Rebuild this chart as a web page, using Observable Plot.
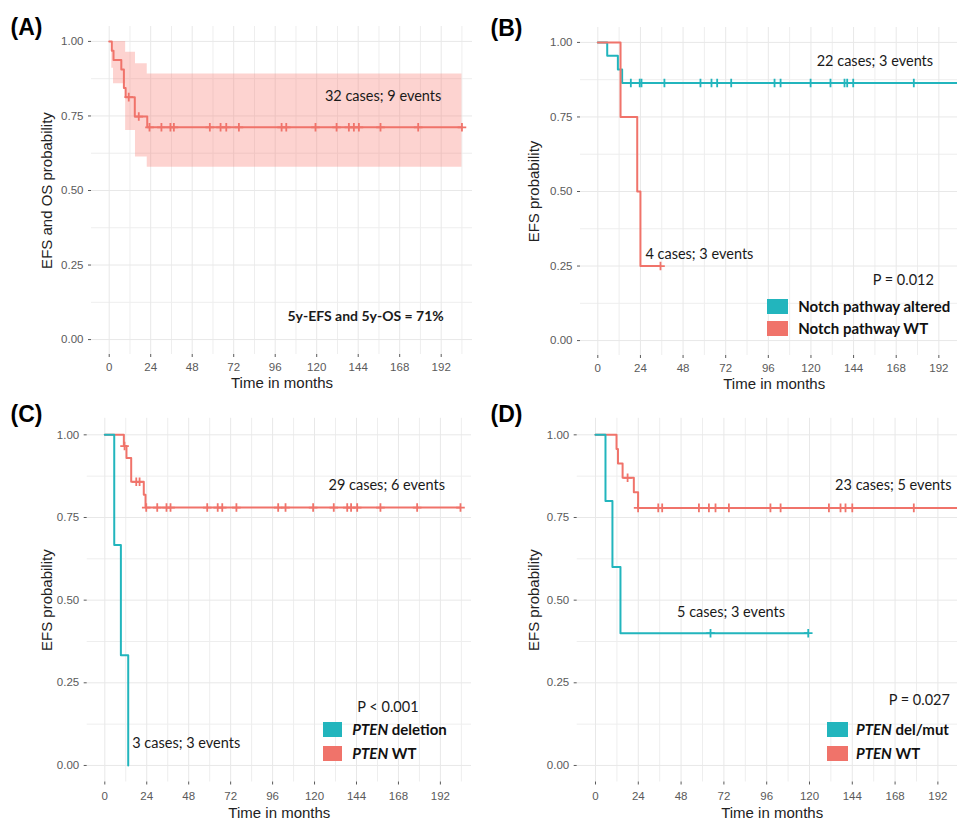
<!DOCTYPE html>
<html><head><meta charset="utf-8">
<script src="https://cdn.jsdelivr.net/npm/d3@7"></script>
<script src="https://cdn.jsdelivr.net/npm/@observablehq/plot@0.6"></script>
<style>
body{margin:0;background:#fff;}
#root{position:relative;width:957px;height:822px;overflow:hidden;background:#fff;font-family:"Liberation Sans",Arial,sans-serif;}
.pan{position:absolute;}
.leg{position:absolute;font-family:Lato,"Open Sans",sans-serif;font-weight:bold;font-size:15px;color:#111;white-space:nowrap;line-height:1;}
.key{position:absolute;}
</style></head><body><div id="root"></div>
<script>
// ---------- shared tick values ----------
const monthTicks = [0, 24, 48, 72, 96, 120, 144, 168, 192];
const monthMinor = [12, 36, 60, 84, 108, 132, 156, 180, 204];
const probTicks = [0, 0.25, 0.5, 0.75, 1];
const probMinor = [0.125, 0.375, 0.625, 0.875];

const TEAL = "#22b5bd";
const RED = "#f0736a";

// ---------- Panel A : all patients ----------
const aTime = [0, 1.5, 2.5, 7.0, 8.5, 9.5, 14.8, 22.0, 204];
const aSurv = [1, 0.969, 0.938, 0.906, 0.844, 0.813, 0.748, 0.712, 0.712];
const aCiTime = [0, 1.5, 2.5, 9.5, 15.2, 22.0, 204];
const aCiHi = [1, 1, 1, 0.964, 0.925, 0.891, 0.891];
const aCiLo = [1, 0.91, 0.858, 0.701, 0.612, 0.578, 0.578];
const aCens = [11.3, 17.1, 23.3, 30.2, 35.4, 37.4, 58.2, 64.4, 67.7, 75.0, 99.7, 102.4, 119.3, 131.5, 138.6, 141.5, 144.4, 156.9, 178.7, 204];
const aNotes = ["32 cases; 9 events"], aNoteX = [158.4], aNoteY = [0.815];
const aBold = ["5y-EFS and 5y-OS = 71%"], aBoldX = [148.3], aBoldY = [0.077];

// ---------- Panel B : Notch pathway ----------
const bAltTime = [0, 5.3, 11.3, 13.7, 204];
const bAltSurv = [1, 0.955, 0.909, 0.864, 0.864];
const bAltCens = [18.6, 23.6, 24.6, 37.5, 57.8, 64.0, 67.2, 75.1, 99.5, 102.9, 119.8, 131.0, 138.9, 140.4, 143.8, 177.9];
const bWtTime = [0, 12.8, 22.2, 24.0, 35.3];
const bWtSurv = [1, 0.75, 0.5, 0.25, 0.25];
const bWtCens = [35.3];
const bNotes = ["22 cases; 3 events", "4 cases; 3 events", "P = 0.012"];
const bNoteX = [156, 57.2, 172];
const bNoteY = [0.935, 0.289, 0.203];
const bLegend = ["Notch pathway altered", "Notch pathway WT"];

// ---------- Panel C : PTEN deletion ----------
const cDelTime = [0, 5.4, 9.2, 13.4];
const cDelSurv = [1, 0.667, 0.333, 0];
const cWtTime = [0, 10.9, 12.4, 15.1, 22.3, 23.3, 203.5];
const cWtSurv = [1, 0.966, 0.930, 0.858, 0.819, 0.780, 0.780];
const cWtCens = [11.3, 18.0, 19.9, 23.7, 30.0, 35.3, 37.6, 58.6, 64.6, 67.2, 75.3, 99.2, 103.4, 119.2, 131.0, 138.7, 140.9, 144.4, 157.7, 178.7, 203.5];
const cNotes = ["29 cases; 6 events", "3 cases; 3 events", "P < 0.001"];
const cNoteX = [161.3, 46.6, 162];
const cNoteY = [0.846, 0.066, 0.176];
const cLegend = [" deletion", " WT"];

// ---------- Panel D : PTEN del/mut ----------
const dMutTime = [0, 5.6, 9.5, 14.0, 119.3];
const dMutSurv = [1, 0.8, 0.6, 0.4, 0.4];
const dMutCens = [64.5, 119.3];
const dWtTime = [0, 11.8, 12.6, 15.2, 21.5, 23.9, 204];
const dWtSurv = [1, 0.957, 0.913, 0.870, 0.826, 0.779, 0.779];
const dWtCens = [18.0, 23.9, 35.2, 37.4, 58.0, 63.6, 67.3, 74.8, 98.1, 103.8, 130.9, 137.4, 140.2, 144.0, 178.5, 203.5];
const dNotes = ["23 cases; 5 events", "5 cases; 3 events", "P = 0.027"];
const dNoteX = [167, 76, 181.6];
const dNoteY = [0.846, 0.464, 0.197];
const dLegend = [" del/mut", " WT"];

// ---------- helpers ----------
const zip = (t, s) => t.map((x, i) => ({t: x, s: s[i]}));
function stepAt(times, surv, t) {
  let v = surv[0];
  for (let i = 0; i < times.length; i++) if (times[i] <= t) v = surv[i];
  return v;
}
const cens = (ct, times, surv) => ct.map(t => ({t, s: stepAt(times, surv, t)}));
const notes = (txt, xs, ys) => txt.map((d, i) => ({text: d, x: xs[i], y: ys[i]}));
const plusSym = {draw(ctx, size) { const r = Math.sqrt(size / Math.PI); ctx.moveTo(-r, 0); ctx.lineTo(r, 0); ctx.moveTo(0, -r); ctx.lineTo(0, r); }};

function curveMarks(times, surv, cts, color) {
  const m = [Plot.line(zip(times, surv), {x: "t", y: "s", curve: "step-after", stroke: color, strokeWidth: 2, clip: true})];
  if (cts && cts.length) m.push(Plot.dot(cens(cts, times, surv), {x: "t", y: "s", symbol: plusSym, r: 4.3, stroke: color, fill: "none", strokeWidth: 1.8, clip: true}));
  return m;
}

function makePanel(p) {
  const marks = [
    Plot.ruleX(monthMinor, {stroke: "#eeeeee", strokeWidth: 1}),
    Plot.ruleY(probMinor, {stroke: "#eeeeee", strokeWidth: 1}),
    Plot.ruleX(monthTicks, {stroke: "#e8e8e8", strokeWidth: 1}),
    Plot.ruleY(probTicks, {stroke: "#e8e8e8", strokeWidth: 1}),
    Plot.axisX(monthTicks, {anchor: "bottom", tickSize: 3, tickPadding: p.xPad, fontSize: 11.5, color: "#5a5a5a", label: null}),
    Plot.axisY(probTicks, {anchor: "left", tickSize: 3, tickPadding: 5, fontSize: 11.5, color: "#5a5a5a", label: null, tickFormat: d3.format(".2f")}),
    ...p.marks,
    Plot.text([p.xTitle], {text: d => d, frameAnchor: "bottom", textAnchor: "middle", lineAnchor: "middle", dy: p.xTitleDy, dx: p.xTitleDx, fontSize: 15, fill: "#222"}),
    Plot.text([p.yTitle], {text: d => d, frameAnchor: "left", textAnchor: "middle", lineAnchor: "middle", rotate: -90, dx: p.yTitleDx, fontSize: 15, fill: "#222"}),
    Plot.text([p.tag], {text: d => d, frameAnchor: "top-left", dx: 10 - p.ml, dy: p.tagY - p.mt, textAnchor: "start", lineAnchor: "middle", fontSize: 23, fontWeight: "bold", fill: "#000", fontFamily: "Liberation Sans, Arial, sans-serif"})
  ];
  return Plot.plot({
    width: p.w, height: p.h,
    marginLeft: p.ml, marginRight: p.mr, marginTop: p.mt, marginBottom: p.mb,
    x: {domain: p.xdom},
    y: {domain: [-0.05, 1.05]},
    style: {fontFamily: "Liberation Sans, Arial, sans-serif", background: "transparent", overflow: "visible"},
    marks
  });
}

function noteMarks(txt, xs, ys, bold) {
  return [Plot.text(notes(txt, xs, ys), {x: "x", y: "y", text: "text", fontFamily: "Lato, Open Sans, sans-serif", fontSize: bold ? 14 : 14.5, fontWeight: bold ? "bold" : "normal", fill: "#1a1a1a"})];
}

const root = document.getElementById("root");
function place(svg, left, top) {
  const d = document.createElement("div");
  d.className = "pan"; d.style.left = left + "px"; d.style.top = top + "px";
  d.appendChild(svg); root.appendChild(d);
}
function legend(items, left, keyW, keyTops, textLeft) {
  items.forEach((it, i) => {
    const k = document.createElement("div");
    k.className = "key";
    Object.assign(k.style, {left: left + "px", top: keyTops[i] + "px", width: keyW + "px", height: "15px", background: it.color});
    root.appendChild(k);
    const t = document.createElement("div");
    t.className = "leg";
    t.style.left = textLeft + "px"; t.style.top = (keyTops[i]) + "px";
    t.innerHTML = it.html;
    root.appendChild(t);
  });
}

// Panel A
place(makePanel({
  w: 478, h: 400, ml: 91, mr: 6, mt: 26, mb: 46, xdom: [-10.24, 210.1], xPad: 5,
  xTitle: "Time in months", xTitleDy: 28.7, xTitleDx: 0,
  yTitle: "EFS and OS probability", yTitleDx: -44.5, tag: "(A)", tagY: 27.5,
  marks: [
    Plot.areaY(aCiTime.map((t, i) => ({t, lo: aCiLo[i], hi: aCiHi[i]})), {x: "t", y1: "lo", y2: "hi", curve: "step-after", fill: "#F8766D", fillOpacity: 0.32}),
    ...curveMarks(aTime, aSurv, aCens, RED),
    ...noteMarks(aNotes, aNoteX, aNoteY, false),
    ...noteMarks(aBold, aBoldX, aBoldY, true)
  ]
}), 0, 0);

// Panel B
place(makePanel({
  w: 477, h: 400, ml: 100, mr: 0, mt: 27, mb: 45, xdom: [-9.74, 202.5], xPad: 5,
  xTitle: "Time in months", xTitleDy: 28.3, xTitleDx: 5.2,
  yTitle: "EFS probability", yTitleDx: -46.5, tag: "(B)", tagY: 28,
  marks: [
    ...curveMarks(bAltTime, bAltSurv, bAltCens, TEAL),
    ...curveMarks(bWtTime, bWtSurv, bWtCens, RED),
    ...noteMarks(bNotes, bNoteX, bNoteY, false)
  ]
}), 480, 0);

// Panel C
place(makePanel({
  w: 478, h: 422, ml: 86.7, mr: 7, mt: 17.8, mb: 40.5, xdom: [-10.07, 209.8], xPad: 7,
  xTitle: "Time in months", xTitleDy: 31.2, xTitleDx: 0,
  yTitle: "EFS probability", yTitleDx: -40.4, tag: "(C)", tagY: 14,
  marks: [
    ...curveMarks(cWtTime, cWtSurv, cWtCens, RED),
    ...curveMarks(cDelTime, cDelSurv, [], TEAL),
    ...noteMarks(cNotes, cNoteX, cNoteY, false)
  ]
}), 0, 400);

// Panel D
place(makePanel({
  w: 477, h: 422, ml: 96.7, mr: 0, mt: 17.8, mb: 40.5, xdom: [-10.26, 203.0], xPad: 7,
  xTitle: "Time in months", xTitleDy: 31.2, xTitleDx: 4.8,
  yTitle: "EFS probability", yTitleDx: -43.2, tag: "(D)", tagY: 14,
  marks: [
    ...curveMarks(dWtTime, dWtSurv, dWtCens, RED),
    ...curveMarks(dMutTime, dMutSurv, dMutCens, TEAL),
    ...noteMarks(dNotes, dNoteX, dNoteY, false)
  ]
}), 480, 400);

// Legends
legend([{color: TEAL, html: bLegend[0]}, {color: RED, html: bLegend[1]}], 767.3, 21, [299, 321], 798.3);
legend([{color: TEAL, html: "<i>PTEN</i>" + cLegend[0]}, {color: RED, html: "<i>PTEN</i>" + cLegend[1]}], 323.3, 19, [722.3, 745.7], 352.3);
legend([{color: TEAL, html: "<i>PTEN</i>" + dLegend[0]}, {color: RED, html: "<i>PTEN</i>" + dLegend[1]}], 826.7, 21, [722.3, 745.7], 856);
</script></body></html>
